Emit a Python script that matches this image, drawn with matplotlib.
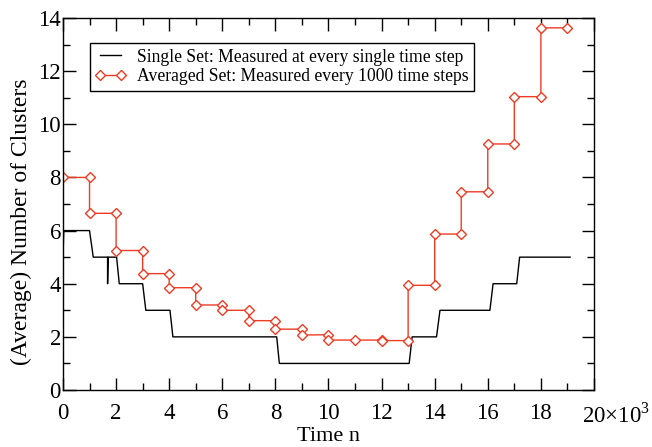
import matplotlib
matplotlib.use("Agg")
import matplotlib.pyplot as plt
from matplotlib.ticker import MultipleLocator
from matplotlib.transforms import ScaledTranslation

plt.rcParams['font.family'] = ['Liberation Serif', 'DejaVu Serif']
plt.rcParams['mathtext.fontset'] = 'custom'
plt.rcParams['mathtext.rm'] = 'Liberation Serif'

# single set: measured at every time step (time in units of 10^3)
t_single = [0, 0.03, 1.0, 1.14, 1.68, 1.68, 1.70, 2.02, 2.12, 3.0, 3.12, 4.03, 4.14,
            8.05, 8.15, 13.04, 13.15, 14.07, 14.2, 16.08, 16.2, 17.09, 17.2, 19.1]
n_single = [5, 6, 6, 5, 5, 4, 5, 5, 4, 4, 3, 3, 2,
            2, 1, 1, 2, 2, 3, 3, 4, 4, 5, 5]

# averaged set: measured every 1000 time steps
t_avg = [0, 1, 1, 2, 2, 3, 3, 4, 4, 5, 5, 6, 6, 7, 7, 8, 8, 9, 9, 10, 10,
         11, 12, 12, 13, 13, 14, 14, 15, 15, 16, 16, 17, 17, 18, 18, 19]
n_avg = [8.0, 8.0, 6.65, 6.65, 5.25, 5.25, 4.38, 4.38, 3.85, 3.85, 3.2, 3.2, 3.0,
         3.0, 2.61, 2.61, 2.29, 2.29, 2.07, 2.08, 1.88, 1.88, 1.88, 1.86, 1.86, 3.94,
         3.94, 5.87, 5.87, 7.46, 7.46, 9.26, 9.26, 11.04, 11.04, 13.63, 13.63]

fig = plt.figure(figsize=(6.52, 4.47), dpi=100)
ax = fig.add_axes([0.0966, 0.1275, 0.8144, 0.8322])

ax.plot(t_single, n_single, color='black', lw=1.0,
        label='Single Set: Measured at every single time step')
ax.plot(t_avg, n_avg, color='#ee3b24', lw=1.0, marker='D', markersize=5,
        markerfacecolor='white', markeredgecolor='#ee3b24', markeredgewidth=1.0,
        label='Averaged Set: Measured every 1000 time steps')

ax.set_xlim(0, 20)
ax.set_ylim(0, 14)
ax.xaxis.set_major_locator(MultipleLocator(2))
ax.xaxis.set_minor_locator(MultipleLocator(1))
ax.yaxis.set_major_locator(MultipleLocator(2))
ax.yaxis.set_minor_locator(MultipleLocator(1))
ax.set_xticks(range(0, 21, 2))
ax.set_xticklabels([str(v) for v in range(0, 20, 2)] + [r'20$\times$10$^3$'])
ax.tick_params(which='both', direction='in', top=True, right=True, labelsize=16.5, width=1)
ax.tick_params(which='major', length=9)
ax.tick_params(axis='x', which='major', pad=9)
ax.tick_params(axis='y', which='major', pad=1.5)
ax.tick_params(which='minor', length=5)
for s in ax.spines.values():
    s.set_linewidth(1.0)

# last tick label starts near the tick, exponent hangs to the right
last = ax.get_xticklabels()[-1]
last.set_horizontalalignment('left')
last.set_transform(last.get_transform() + ScaledTranslation(-12 / 100, 0, fig.dpi_scale_trans))

ax.set_xlabel('Time n', fontsize=16, va='baseline')
ax.xaxis.set_label_coords(0.5, -0.137)
ax.set_ylabel('(Average) Number of Clusters', fontsize=17)
ax.yaxis.set_label_coords(-0.058, 0.452)

leg = ax.legend(loc='upper left', bbox_to_anchor=(0.05, 0.932), fontsize=12.7,
                fancybox=False, edgecolor='black', framealpha=1, numpoints=2,
                handlelength=1.8, borderpad=0.3, labelspacing=0.15, handletextpad=0.6,
                borderaxespad=0)
leg.get_frame().set_linewidth(1.0)

fig.savefig('out.png', dpi=100)
